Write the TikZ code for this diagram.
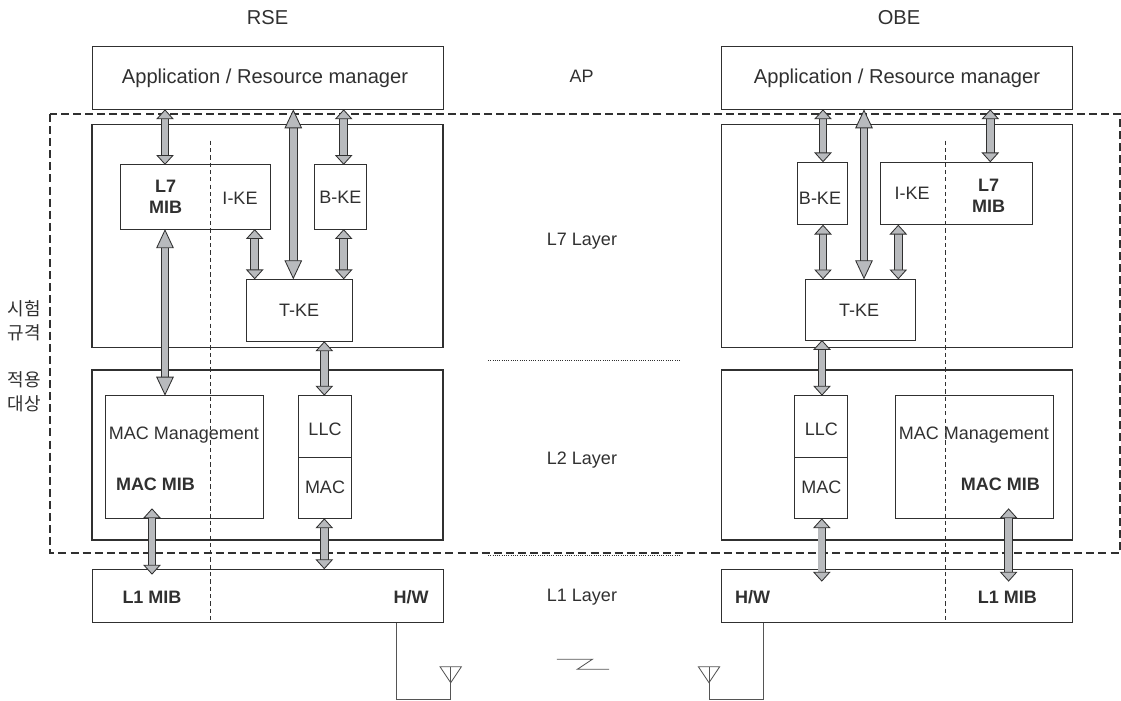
\documentclass[tikz,border=0pt]{standalone}
\usepackage{fontspec}
\setmainfont{Liberation Sans}
\newfontfamily\krfont{Noto Sans CJK KR}
\usepackage{xcolor}
\usetikzlibrary{arrows.meta,calc}
\definecolor{inkgray}{HTML}{303030}
\definecolor{wiregray}{HTML}{555555}
\definecolor{arrowfill}{HTML}{B8BABD}

\begin{document}
\begin{tikzpicture}[
    x=0.025cm, y=-0.025cm,
    boxsize/.style 2 args={minimum width=#1*0.025cm, minimum height=#2*0.025cm},
    box/.style={draw=inkgray, line width=0.6pt, inner sep=0pt, outer sep=0pt,
                font=\fontsize{12.8}{15}\selectfont, text=inkgray},
    layerbox/.style={box, line width=1.1pt},
    lbl/.style={inner sep=0pt, font=\fontsize{12.8}{15}\selectfont, text=inkgray},
    biglbl/.style={lbl, font=\fontsize{14.3}{17}\selectfont},
    blbl/.style={lbl, align=center, font=\fontsize{12.8}{15}\selectfont\bfseries},
    krlbl/.style={inner sep=0pt, align=center, text=inkgray,
                  font=\krfont\fontsize{12.8}{17}\selectfont},
    dbl/.style={draw=inkgray, line width=0.6pt, double=arrowfill, double distance=4.8pt,
                {Triangle[length=7pt,width=12.5pt,fill=arrowfill,line width=0.6pt]}-{Triangle[length=7pt,width=12.5pt,fill=arrowfill,line width=0.6pt]}},
    dblbig/.style={draw=inkgray, line width=0.6pt, double=arrowfill, double distance=4.8pt,
                {Triangle[length=13.5pt,width=12.5pt,fill=arrowfill,line width=0.6pt]}-{Triangle[length=13.5pt,width=12.5pt,fill=arrowfill,line width=0.6pt]}},
    wire/.style={draw=wiregray, line width=0.6pt},
    thindash/.style={draw=inkgray, line width=0.5pt, dash pattern=on 3pt off 2.2pt},
    dotline/.style={draw=inkgray, line width=0.6pt, dash pattern=on 0.7pt off 0.9pt}
  ]
    \useasboundingbox (0,0) rectangle (1121,701);

    % --- Test scope frame ---
    \draw[inkgray, line width=1.3pt, dash pattern=on 5.7pt off 2.9pt]
      (50,114) rectangle (1120,553);
    \node[krlbl] (kr1) at (24.5,321) {시험\\규격};
    \node[krlbl] (kr2) at (24.5,392) {적용\\대상};

    % --- Left: RSE ---
    \node[biglbl] (rse) at (267.5,18) {RSE};
    \node[box, boxsize={351}{63.3}] (rapp) at (267.5,77.7) {};
    \node[biglbl] (rappt) at (265,78.5) {Application / Resource manager};
    \node[layerbox, boxsize={351}{223}] (rl7) at (267.5,236) {};
    \node[layerbox, boxsize={351}{170}] (rl2) at (267.5,455) {};
    \node[box, boxsize={351}{53.5}] (rl1) at (267.5,596) {};
    \node[box, boxsize={150.7}{64.3}] (rmib) at (195.3,197) {};
    \node[box, boxsize={52.7}{64.3}] (rbke) at (340.3,197) {B-KE};
    \node[box, boxsize={105.7}{62}] (rtke) at (299.2,310.3) {T-KE};
    \node[box, boxsize={158}{122.6}] (rmacm) at (184.3,457) {};
    \node[box, boxsize={52.7}{61.3}] (rllc) at (324.7,426.3) {};
    \node[box, boxsize={52.7}{61.3}] (rmac) at (324.7,487.7) {};
    \draw[thindash] (210.3,140.7) -- (210.3,623);

    \node[blbl] (rmibt) at (165.7,197) {L7\\MIB};
    \node[lbl] (rike) at (240,198) {I-KE};
    \node[lbl] (rmacmt) at (184,435) {MAC Management};
    \node[blbl] (rmacmib) at (155.5,484) {MAC MIB};
    \node[lbl] (rllct) at (325,429) {LLC};
    \node[lbl] (rmact) at (325,487) {MAC};
    \node[blbl] (rl1mib) at (152,597) {L1 MIB};
    \node[blbl] (rhw) at (411,597) {H/W};

    \coordinate (rmacin) at (152,508.3);
    \coordinate (rl1in) at (152,574.7);
    \draw[dbl] (165,0 |- rapp.south) -- (165,0 |- rmib.north);
    \draw[dblbig] (293.3,0 |- rapp.south) -- (293.3,0 |- rtke.north);
    \draw[dbl] (343.7,0 |- rapp.south) -- (343.7,0 |- rbke.north);
    \draw[dbl] (254.7,0 |- rmib.south) -- (254.7,0 |- rtke.north);
    \draw[dbl] (343.7,0 |- rbke.south) -- (343.7,0 |- rtke.north);
    \draw[dblbig] (165,0 |- rmib.south) -- (165,0 |- rmacm.north);
    \draw[dbl] (324.3,0 |- rtke.south) -- (324.3,0 |- rllc.north);
    \draw[dbl] (rmacin) -- (rl1in);
    \draw[dbl] (324.3,0 |- rmac.south) -- (324.3,0 |- rl1.north);

    % --- Right: OBE ---
    \node[biglbl] (obe) at (899,18) {OBE};
    \node[box, boxsize={351}{63.3}] (oapp) at (897,77.7) {};
    \node[biglbl] (oappt) at (897,78.5) {Application / Resource manager};
    \node[layerbox, boxsize={351}{223}] (ol7) at (897,236) {};
    \node[layerbox, boxsize={351}{170}] (ol2) at (897,455) {};
    \node[box, boxsize={351}{53.5}] (ol1) at (897,596) {};
    \node[box, boxsize={50.3}{62.4}] (obke) at (822.2,193.5) {};
    \node[lbl] (obket) at (820,198) {B-KE};
    \node[box, boxsize={152}{62.4}] (omib) at (956.7,193.5) {};
    \node[box, boxsize={109.3}{60.7}] (otke) at (860.3,309.7) {};
    \node[lbl] (otket) at (859,310) {T-KE};
    \node[box, boxsize={52.6}{61.3}] (ollc) at (820.7,426.3) {};
    \node[box, boxsize={52.6}{61.3}] (omac) at (820.7,487.7) {};
    \node[box, boxsize={158.2}{122.6}] (omacm) at (974.5,457) {};
    \draw[thindash] (945.3,140.7) -- (945.3,623);

    \node[lbl] (oike) at (912,193) {I-KE};
    \node[blbl] (omibt) at (988.7,195.5) {L7\\MIB};
    \node[lbl] (ollct) at (821.4,429) {LLC};
    \node[lbl] (omact) at (821.4,487) {MAC};
    \node[lbl] (omacmt) at (974,435) {MAC Management};
    \node[blbl] (omacmib) at (1000.4,484) {MAC MIB};
    \node[blbl] (ohw) at (752.7,597) {H/W};
    \node[blbl] (ol1mib) at (1007.4,597) {L1 MIB};

    \coordinate (olin) at (821.8,581.7);
    \coordinate (omacin) at (1008.6,508.3);
    \coordinate (olin2) at (1008.6,581.7);
    \draw[dbl] (823,0 |- oapp.south) -- (823,0 |- obke.north);
    \draw[dblbig] (864,0 |- oapp.south) -- (864,0 |- otke.north);
    \draw[dbl] (990.3,0 |- oapp.south) -- (990.3,0 |- omib.north);
    \draw[dbl] (823,0 |- obke.south) -- (823,0 |- otke.north);
    \draw[dbl] (898.3,0 |- omib.south) -- (898.3,0 |- otke.north);
    \draw[dbl] (822,0 |- otke.south) -- (822,0 |- ollc.north);
    \draw[dbl] (821.8,0 |- omac.south) -- (olin);
    \draw[dbl] (omacin) -- (olin2);

    % --- Middle: layer names ---
    \foreach \nm/\yy/\tx in {lseven/241/L7 Layer, ltwo/460/L2 Layer, lone/597/L1 Layer}
      \node[lbl] (\nm) at (582,\yy) {\tx};
    \node[lbl] (ap) at (581.7,76.7) {AP};
    \coordinate (dota) at (488,360);
    \coordinate (dotb) at (680,360);
    \coordinate (dotc) at (488,555.5);
    \coordinate (dotd) at (680,555.5);
    \draw[dotline] (dota) -- (dotb);
    \draw[dotline] (dotc) -- (dotd);

    % --- Antennas ---
    \foreach \nm/\xa/\xb in {rl1/396.7/450.7, ol1/763/709} {
      \coordinate (tip\nm) at (\xb,682.7);
      \draw[wire] (\xa,0 |- \nm.south) -- (\xa,699.3) -- (\xb,699.3) -- (\xb,666.7);
      \draw[wire] ($(tip\nm)+(-10.7,-16)$) -- ++(21.4,0) -- (tip\nm) -- cycle;
    }
    \coordinate (zaga) at (556.9,659.3);
    \coordinate (zagb) at (592.4,659.3);
    \coordinate (zagc) at (577.3,669.3);
    \coordinate (zagd) at (609.2,669.3);
    \draw[wire] (zaga) -- (zagb) -- (zagc) -- (zagd);
  \end{tikzpicture}
\end{document}
